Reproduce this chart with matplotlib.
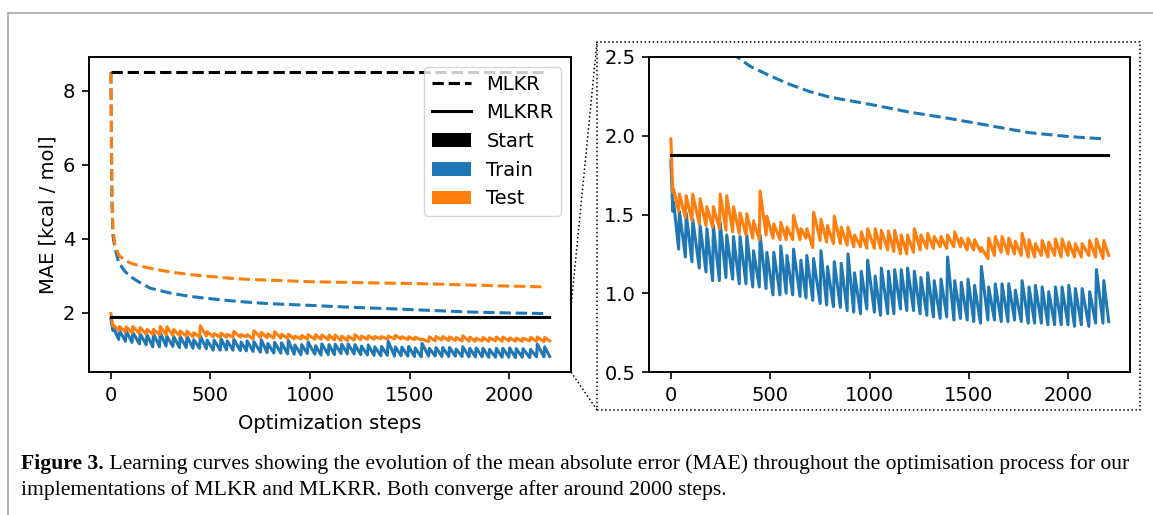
import matplotlib
matplotlib.use("Agg")
import matplotlib.pyplot as plt
from matplotlib.lines import Line2D
from matplotlib.patches import Patch, Rectangle

# ---------------- data ----------------
# MLKR (dashed) learning curves
mlkr_steps = [0, 2, 5, 10, 20, 40, 70, 100, 150, 200, 300, 400, 500, 600, 700,
              800, 1000, 1200, 1400, 1600, 1800, 2000, 2180]
mlkr_train = [8.5, 7.0, 5.0, 4.1, 3.75, 3.35, 3.12, 2.97, 2.80, 2.66, 2.53, 2.44,
              2.38, 2.325, 2.28, 2.245, 2.20, 2.15, 2.11, 2.065, 2.02, 1.995, 1.98]
mlkr_test = [8.5, 7.3, 5.4, 4.3, 3.85, 3.55, 3.42, 3.34, 3.26, 3.20, 3.10, 3.03,
             2.98, 2.93, 2.90, 2.88, 2.84, 2.82, 2.80, 2.78, 2.75, 2.72, 2.70]
mlkr_start_steps = [0, 2180]
mlkr_start = [8.5, 8.5]

# MLKRR (solid) learning curves: saw-tooth, one tooth per restart
mlkrr_first_step = 0
mlkrr_train_first = 1.84
mlkrr_test_first = 1.98
tooth_steps = [14, 43, 77, 110, 147, 181, 214, 248, 281, 315,
               348, 382, 416, 449, 483, 518, 553, 584, 617, 654,
               684, 718, 755, 788, 822, 857, 891, 924, 958, 990,
               1028, 1059, 1095, 1126, 1159, 1191, 1225, 1258, 1292, 1325,
               1359, 1392, 1428, 1461, 1495, 1528, 1562, 1599, 1632, 1666,
               1700, 1733, 1767, 1802, 1834, 1868, 1901, 1935, 1968, 2002,
               2035, 2069, 2107, 2141, 2178]
train_peaks = [1.58, 1.52, 1.51, 1.47, 1.43, 1.41, 1.43, 1.45, 1.37, 1.36,
               1.36, 1.37, 1.27, 1.37, 1.26, 1.26, 1.30, 1.24, 1.28, 1.21,
               1.24, 1.22, 1.27, 1.17, 1.20, 1.19, 1.25, 1.13, 1.14, 1.21,
               1.11, 1.16, 1.14, 1.15, 1.15, 1.16, 1.14, 1.10, 1.13, 1.08,
               1.09, 1.23, 1.08, 1.07, 1.09, 1.05, 1.17, 1.04, 1.06, 1.06,
               1.06, 1.02, 1.08, 1.04, 1.05, 1.04, 1.01, 1.04, 1.04, 1.05,
               1.03, 1.03, 1.01, 1.15, 1.08]
train_troughs = [1.52, 1.28, 1.23, 1.20, 1.16, 1.135, 1.08, 1.08, 1.10, 1.09,
                 1.06, 1.06, 1.04, 1.04, 1.03, 0.99, 0.99, 1.00, 0.99, 0.98,
                 0.97, 0.955, 0.935, 0.925, 0.915, 0.91, 0.89, 0.88, 0.87, 0.90,
                 0.88, 0.86, 0.87, 0.87, 0.90, 0.89, 0.89, 0.87, 0.86, 0.85,
                 0.84, 0.85, 0.83, 0.84, 0.83, 0.82, 0.81, 0.83, 0.83, 0.82,
                 0.82, 0.83, 0.82, 0.81, 0.81, 0.81, 0.80, 0.80, 0.80, 0.80,
                 0.79, 0.80, 0.79, 0.81, 0.81]
test_peaks = [1.66, 1.63, 1.62, 1.63, 1.60, 1.55, 1.55, 1.63, 1.62, 1.55,
              1.51, 1.505, 1.46, 1.65, 1.49, 1.44, 1.45, 1.42, 1.495, 1.41,
              1.41, 1.515, 1.47, 1.43, 1.49, 1.42, 1.42, 1.37, 1.39, 1.41,
              1.41, 1.40, 1.395, 1.40, 1.37, 1.37, 1.41, 1.37, 1.38, 1.36,
              1.36, 1.37, 1.39, 1.35, 1.35, 1.34, 1.29, 1.35, 1.36, 1.36,
              1.35, 1.33, 1.38, 1.34, 1.315, 1.335, 1.325, 1.345, 1.345, 1.325,
              1.315, 1.315, 1.335, 1.345, 1.335]
test_troughs = [1.64, 1.52, 1.48, 1.46, 1.44, 1.43, 1.42, 1.41, 1.40, 1.39,
                1.38, 1.37, 1.35, 1.34, 1.37, 1.35, 1.34, 1.34, 1.34, 1.34,
                1.35, 1.29, 1.335, 1.325, 1.315, 1.315, 1.305, 1.295, 1.295, 1.285,
                1.285, 1.285, 1.275, 1.265, 1.25, 1.25, 1.26, 1.275, 1.285, 1.285,
                1.295, 1.285, 1.295, 1.295, 1.275, 1.275, 1.265, 1.22, 1.24, 1.26,
                1.25, 1.25, 1.24, 1.23, 1.23, 1.24, 1.23, 1.24, 1.23, 1.24,
                1.23, 1.23, 1.24, 1.23, 1.22]
mlkrr_last_step = 2203
mlkrr_train_last = 0.82
mlkrr_test_last = 1.24
mlkrr_start_steps = [0, 2200]
mlkrr_start = [1.88, 1.88]

caption_bold = "Figure 3."
caption_line1 = (" Learning curves showing the evolution of the mean absolute error (MAE) "
                 "throughout the optimisation process for our")
caption_line2 = "implementations of MLKR and MLKRR. Both converge after around 2000 steps."

# ---------------- helpers ----------------
RISE = 4  # steps between a trough and the following peak


def sawtooth(first, peaks, troughs, last):
    xs = [mlkrr_first_step]
    ys = [first]
    for s, p, t in zip(tooth_steps, peaks, troughs):
        xs += [s - RISE, s]
        ys += [t, p]
    xs.append(mlkrr_last_step)
    ys.append(last)
    return xs, ys


tr_x, tr_y = sawtooth(mlkrr_train_first, train_peaks, train_troughs, mlkrr_train_last)
te_x, te_y = sawtooth(mlkrr_test_first, test_peaks, test_troughs, mlkrr_test_last)

BLUE = "#1f77b4"
ORANGE = "#ff7f0e"
LW = 2.2

plt.rcParams.update({
    "font.family": ["DejaVu Sans"],
    "font.size": 14,
    "axes.linewidth": 1.4,
    "xtick.major.size": 4.9,
    "ytick.major.size": 4.9,
    "xtick.major.width": 1.2,
    "ytick.major.width": 1.2,
    "xtick.major.pad": 4.9,
    "ytick.major.pad": 4.9,
})

W, H = 1153, 515
fig = plt.figure(figsize=(W / 100, H / 100), dpi=100)


def fx(x):
    return x / W


def fy(y):
    return 1 - y / H


def draw(ax):
    ax.plot(mlkr_steps, mlkr_train, "--", color=BLUE, lw=LW)
    ax.plot(mlkr_steps, mlkr_test, "--", color=ORANGE, lw=LW)
    ax.plot(tr_x, tr_y, "-", color=BLUE, lw=LW)
    ax.plot(te_x, te_y, "-", color=ORANGE, lw=LW)
    ax.plot(mlkr_start_steps, mlkr_start, "--", color="black", lw=LW)
    ax.plot(mlkrr_start_steps, mlkrr_start, "-", color="black", lw=LW)
    ax.set_xlim(-110, 2310)
    ax.set_xticks([0, 500, 1000, 1500, 2000])


# left axes
ax1 = fig.add_axes([fx(89), fy(372), fx(571) - fx(89), fy(57) - fy(372)])
draw(ax1)
ax1.set_ylim(0.40, 8.91)
ax1.set_yticks([2, 4, 6, 8])
ax1.set_xlabel("Optimization steps", labelpad=7)
ax1.set_ylabel("MAE [kcal / mol]")

handles = [
    Line2D([], [], color="black", ls="--", lw=LW),
    Line2D([], [], color="black", ls="-", lw=LW),
    Patch(facecolor="black"),
    Patch(facecolor=BLUE),
    Patch(facecolor=ORANGE),
]
ax1.legend(handles, ["MLKR", "MLKRR", "Start", "Train", "Test"],
           loc="upper right", fontsize=14)

# right (zoomed) axes
ax2 = fig.add_axes([fx(649), fy(372), fx(1130) - fx(649), fy(57) - fy(372)])
draw(ax2)
ax2.set_ylim(0.5, 2.5)
ax2.set_yticks([0.5, 1.0, 1.5, 2.0, 2.5])
ax2.set_yticklabels(["0.5", "1.0", "1.5", "2.0", "2.5"])

# dotted inset frame and connectors
fig.add_artist(Rectangle((fx(597), fy(410)), fx(1139.5) - fx(597), fy(42) - fy(410),
                         transform=fig.transFigure, fill=False, ls=":", lw=1.1,
                         ec="black"))
fig.add_artist(Line2D([fx(571), fx(597)], [fy(307), fy(42)], transform=fig.transFigure,
                      ls=":", lw=1.1, color="black"))
fig.add_artist(Line2D([fx(571), fx(597)], [fy(372), fy(410)], transform=fig.transFigure,
                      ls=":", lw=1.1, color="black"))

# page border
fig.add_artist(Line2D([fx(8), fx(1153)], [fy(13), fy(13)], transform=fig.transFigure,
                      lw=1.2, color="#a8a8a8"))
fig.add_artist(Line2D([fx(8), fx(8)], [fy(13), fy(515)], transform=fig.transFigure,
                      lw=1.2, color="#a8a8a8"))

# caption
CAP = dict(family=["Liberation Serif", "DejaVu Serif"], fontsize=15.6, va="baseline")
t0 = fig.text(fx(21), fy(469), caption_bold, fontweight="bold", **CAP)
fig.canvas.draw()
r = fig.canvas.get_renderer()
bb = t0.get_window_extent(renderer=r)
fig.text(bb.x1 / W, fy(469), caption_line1, **CAP)
fig.text(fx(21), fy(495), caption_line2, **CAP)

fig.savefig("out.png", dpi=100)
